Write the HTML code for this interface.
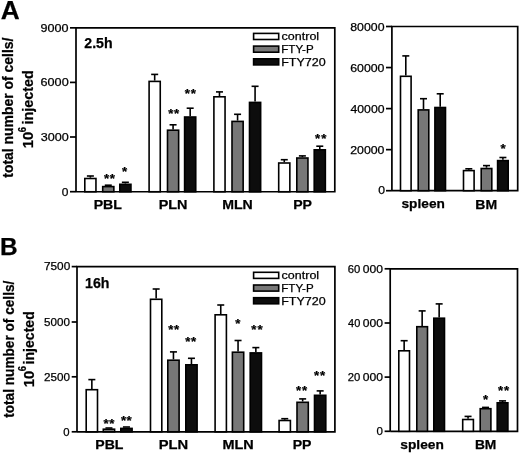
<!DOCTYPE html>
<html><head><meta charset="utf-8"><style>
html,body{margin:0;padding:0;background:#fff;}
svg{display:block;filter:blur(0.35px);}
text{font-family:"Liberation Sans",sans-serif;fill:#000;stroke:#000;stroke-width:0.25px;}
</style></head><body>
<svg width="520" height="453" viewBox="0 0 520 453">
<rect width="520" height="453" fill="#fff"/>
<text x="0.74" y="19.00" font-size="25" textLength="18.97" lengthAdjust="spacingAndGlyphs" font-weight="bold">A</text>
<text x="0.11" y="255.20" font-size="24.5" textLength="17.64" lengthAdjust="spacingAndGlyphs" font-weight="bold">B</text>
<path d="M76.0 191.75 V27.85 H334.8 V191.75 H76.0" fill="none" stroke="#000" stroke-width="1.7" stroke-linejoin="miter"/>
<line x1="70.0" y1="27.85" x2="76.0" y2="27.85" stroke="#000" stroke-width="1.7"/>
<line x1="70.0" y1="82.4" x2="76.0" y2="82.4" stroke="#000" stroke-width="1.7"/>
<line x1="70.0" y1="137.0" x2="76.0" y2="137.0" stroke="#000" stroke-width="1.7"/>
<line x1="70.0" y1="191.7" x2="76" y2="191.7" stroke="#000" stroke-width="1.7"/>
<text x="84.31" y="47.60" font-size="14.3" textLength="28.26" lengthAdjust="spacingAndGlyphs" font-weight="bold">2.5h</text>
<line x1="90.375" y1="177.7" x2="90.375" y2="176.0" stroke="#000" stroke-width="1.6"/>
<line x1="86.875" y1="176.0" x2="93.875" y2="176.0" stroke="#000" stroke-width="1.6"/>
<rect x="84.80" y="178.50" width="11.15" height="13.25" fill="#fff" stroke="#000" stroke-width="1.6"/>
<line x1="104.775" y1="185.2" x2="111.775" y2="185.2" stroke="#000" stroke-width="1.6"/>
<rect x="102.70" y="186.60" width="11.15" height="5.15" fill="#777" stroke="#000" stroke-width="1.6"/>
<line x1="125.375" y1="183.5" x2="125.375" y2="182.3" stroke="#000" stroke-width="1.6"/>
<line x1="121.875" y1="182.3" x2="128.875" y2="182.3" stroke="#000" stroke-width="1.6"/>
<rect x="119.80" y="184.30" width="11.15" height="7.45" fill="#0d0d0d" stroke="#000" stroke-width="1.6"/>
<line x1="154.675" y1="80.6" x2="154.675" y2="74.4" stroke="#000" stroke-width="1.6"/>
<line x1="151.175" y1="74.4" x2="158.175" y2="74.4" stroke="#000" stroke-width="1.6"/>
<rect x="149.10" y="81.40" width="11.15" height="110.35" fill="#fff" stroke="#000" stroke-width="1.6"/>
<line x1="173.075" y1="129.4" x2="173.075" y2="124.8" stroke="#000" stroke-width="1.6"/>
<line x1="169.575" y1="124.8" x2="176.575" y2="124.8" stroke="#000" stroke-width="1.6"/>
<rect x="167.50" y="130.20" width="11.15" height="61.55" fill="#777" stroke="#000" stroke-width="1.6"/>
<line x1="190.175" y1="116.2" x2="190.175" y2="108.2" stroke="#000" stroke-width="1.6"/>
<line x1="186.675" y1="108.2" x2="193.675" y2="108.2" stroke="#000" stroke-width="1.6"/>
<rect x="184.60" y="117.00" width="11.15" height="74.75" fill="#0d0d0d" stroke="#000" stroke-width="1.6"/>
<line x1="219.475" y1="96.0" x2="219.475" y2="91.9" stroke="#000" stroke-width="1.6"/>
<line x1="215.975" y1="91.9" x2="222.975" y2="91.9" stroke="#000" stroke-width="1.6"/>
<rect x="213.90" y="96.80" width="11.15" height="94.95" fill="#fff" stroke="#000" stroke-width="1.6"/>
<line x1="237.575" y1="120.6" x2="237.575" y2="114.3" stroke="#000" stroke-width="1.6"/>
<line x1="234.075" y1="114.3" x2="241.075" y2="114.3" stroke="#000" stroke-width="1.6"/>
<rect x="232.00" y="121.40" width="11.15" height="70.35" fill="#777" stroke="#000" stroke-width="1.6"/>
<line x1="255.075" y1="101.6" x2="255.075" y2="86.3" stroke="#000" stroke-width="1.6"/>
<line x1="251.575" y1="86.3" x2="258.575" y2="86.3" stroke="#000" stroke-width="1.6"/>
<rect x="249.50" y="102.40" width="11.15" height="89.35" fill="#0d0d0d" stroke="#000" stroke-width="1.6"/>
<line x1="284.275" y1="162.2" x2="284.275" y2="159.7" stroke="#000" stroke-width="1.6"/>
<line x1="280.775" y1="159.7" x2="287.775" y2="159.7" stroke="#000" stroke-width="1.6"/>
<rect x="278.70" y="163.00" width="11.15" height="28.75" fill="#fff" stroke="#000" stroke-width="1.6"/>
<line x1="302.375" y1="157.2" x2="302.375" y2="155.9" stroke="#000" stroke-width="1.6"/>
<line x1="298.875" y1="155.9" x2="305.875" y2="155.9" stroke="#000" stroke-width="1.6"/>
<rect x="296.80" y="158.00" width="11.15" height="33.75" fill="#777" stroke="#000" stroke-width="1.6"/>
<line x1="319.775" y1="149.0" x2="319.775" y2="146.2" stroke="#000" stroke-width="1.6"/>
<line x1="316.275" y1="146.2" x2="323.275" y2="146.2" stroke="#000" stroke-width="1.6"/>
<rect x="314.20" y="149.80" width="11.15" height="41.95" fill="#0d0d0d" stroke="#000" stroke-width="1.6"/>
<text x="40.43" y="32.00" font-size="11.5" textLength="27.96" lengthAdjust="spacingAndGlyphs">9000</text>
<text x="40.57" y="86.20" font-size="11.5" textLength="28.13" lengthAdjust="spacingAndGlyphs">6000</text>
<text x="40.70" y="140.80" font-size="11.5" textLength="28.00" lengthAdjust="spacingAndGlyphs">3000</text>
<text x="61.82" y="195.50" font-size="11.5" textLength="6.67" lengthAdjust="spacingAndGlyphs">0</text>
<text x="93.68" y="208.60" font-size="13.2" textLength="28.24" lengthAdjust="spacingAndGlyphs" font-weight="bold">PBL</text>
<text x="158.66" y="208.60" font-size="13.2" textLength="28.77" lengthAdjust="spacingAndGlyphs" font-weight="bold">PLN</text>
<text x="222.18" y="208.60" font-size="13.2" textLength="30.55" lengthAdjust="spacingAndGlyphs" font-weight="bold">MLN</text>
<text x="293.18" y="208.60" font-size="13.2" textLength="18.80" lengthAdjust="spacingAndGlyphs" font-weight="bold">PP</text>
<text transform="translate(13.00,177.74) rotate(-90) scale(1,1.08)" x="0" y="0" font-size="14" textLength="140.14" lengthAdjust="spacingAndGlyphs" font-weight="bold">total number of cells/</text>
<rect x="253.6" y="33.40" width="25.1" height="6.1" fill="#fff" stroke="#000" stroke-width="1.6"/>
<text x="281.64" y="40.20" font-size="10.8" textLength="37.49" lengthAdjust="spacingAndGlyphs">control</text>
<rect x="253.6" y="46.10" width="25.1" height="6.1" fill="#777" stroke="#000" stroke-width="1.6"/>
<text x="281.28" y="52.90" font-size="10.8" textLength="32.33" lengthAdjust="spacingAndGlyphs">FTY-P</text>
<rect x="253.6" y="58.80" width="25.1" height="6.1" fill="#0d0d0d" stroke="#000" stroke-width="1.6"/>
<text x="281.20" y="65.60" font-size="10.8" textLength="44.53" lengthAdjust="spacingAndGlyphs">FTY720</text>
<text x="103.96" y="183.42" font-size="13.30" font-weight="bold">*</text>
<text x="109.66" y="183.42" font-size="13.30" font-weight="bold">*</text>
<text x="121.96" y="176.42" font-size="13.30" font-weight="bold">*</text>
<text x="168.28" y="117.72" font-size="13.30" font-weight="bold">*</text>
<text x="174.03" y="117.72" font-size="13.30" font-weight="bold">*</text>
<text x="184.71" y="97.92" font-size="13.30" font-weight="bold">*</text>
<text x="190.71" y="97.92" font-size="13.30" font-weight="bold">*</text>
<text x="314.98" y="142.67" font-size="13.30" font-weight="bold">*</text>
<text x="321.13" y="142.67" font-size="13.30" font-weight="bold">*</text>
<path d="M391.9 190.7 V26.5 H517.7 V190.7 H391.9" fill="none" stroke="#000" stroke-width="1.7" stroke-linejoin="miter"/>
<line x1="386.0" y1="26.5" x2="391.9" y2="26.5" stroke="#000" stroke-width="1.7"/>
<line x1="386.0" y1="67.55" x2="391.9" y2="67.55" stroke="#000" stroke-width="1.7"/>
<line x1="386.0" y1="108.6" x2="391.9" y2="108.6" stroke="#000" stroke-width="1.7"/>
<line x1="386.0" y1="149.65" x2="391.9" y2="149.65" stroke="#000" stroke-width="1.7"/>
<line x1="386.0" y1="190.7" x2="391.9" y2="190.7" stroke="#000" stroke-width="1.7"/>
<line x1="405.8" y1="75.5" x2="405.8" y2="55.9" stroke="#000" stroke-width="1.6"/>
<line x1="402.3" y1="55.9" x2="409.3" y2="55.9" stroke="#000" stroke-width="1.6"/>
<rect x="400.50" y="76.30" width="10.60" height="114.40" fill="#fff" stroke="#000" stroke-width="1.6"/>
<line x1="423.5" y1="109.1" x2="423.5" y2="98.7" stroke="#000" stroke-width="1.6"/>
<line x1="420.0" y1="98.7" x2="427.0" y2="98.7" stroke="#000" stroke-width="1.6"/>
<rect x="418.20" y="109.90" width="10.60" height="80.80" fill="#777" stroke="#000" stroke-width="1.6"/>
<line x1="440.20000000000005" y1="106.7" x2="440.20000000000005" y2="93.8" stroke="#000" stroke-width="1.6"/>
<line x1="436.70000000000005" y1="93.8" x2="443.70000000000005" y2="93.8" stroke="#000" stroke-width="1.6"/>
<rect x="434.90" y="107.50" width="10.60" height="83.20" fill="#0d0d0d" stroke="#000" stroke-width="1.6"/>
<line x1="468.8" y1="169.8" x2="468.8" y2="168.8" stroke="#000" stroke-width="1.6"/>
<line x1="465.3" y1="168.8" x2="472.3" y2="168.8" stroke="#000" stroke-width="1.6"/>
<rect x="463.50" y="170.60" width="10.60" height="20.10" fill="#fff" stroke="#000" stroke-width="1.6"/>
<line x1="486.5" y1="167.7" x2="486.5" y2="165.6" stroke="#000" stroke-width="1.6"/>
<line x1="483.0" y1="165.6" x2="490.0" y2="165.6" stroke="#000" stroke-width="1.6"/>
<rect x="481.20" y="168.50" width="10.60" height="22.20" fill="#777" stroke="#000" stroke-width="1.6"/>
<line x1="502.90000000000003" y1="159.8" x2="502.90000000000003" y2="157.5" stroke="#000" stroke-width="1.6"/>
<line x1="499.40000000000003" y1="157.5" x2="506.40000000000003" y2="157.5" stroke="#000" stroke-width="1.6"/>
<rect x="497.60" y="160.60" width="10.60" height="30.10" fill="#0d0d0d" stroke="#000" stroke-width="1.6"/>
<text x="350.25" y="30.50" font-size="11.2" textLength="34.26" lengthAdjust="spacingAndGlyphs">80000</text>
<text x="350.18" y="71.50" font-size="11.2" textLength="34.32" lengthAdjust="spacingAndGlyphs">60000</text>
<text x="350.49" y="112.50" font-size="11.2" textLength="34.01" lengthAdjust="spacingAndGlyphs">40000</text>
<text x="350.18" y="153.50" font-size="11.2" textLength="34.32" lengthAdjust="spacingAndGlyphs">20000</text>
<text x="378.31" y="194.40" font-size="11.2" textLength="6.79" lengthAdjust="spacingAndGlyphs">0</text>
<text x="401.52" y="208.00" font-size="13.2" textLength="43.34" lengthAdjust="spacingAndGlyphs" font-weight="bold">spleen</text>
<text x="475.29" y="208.60" font-size="13.2" textLength="21.80" lengthAdjust="spacingAndGlyphs" font-weight="bold">BM</text>
<text x="500.46" y="152.82" font-size="13.30" font-weight="bold">*</text>
<path d="M77.0 431.8 V266.6 H334.9 V431.8 H77.0" fill="none" stroke="#000" stroke-width="1.7" stroke-linejoin="miter"/>
<line x1="71.7" y1="266.6" x2="77.0" y2="266.6" stroke="#000" stroke-width="1.7"/>
<line x1="71.7" y1="322.0" x2="77.0" y2="322.0" stroke="#000" stroke-width="1.7"/>
<line x1="71.7" y1="376.8" x2="77.0" y2="376.8" stroke="#000" stroke-width="1.7"/>
<line x1="71.7" y1="431.8" x2="77" y2="431.8" stroke="#000" stroke-width="1.7"/>
<text x="85.08" y="287.60" font-size="14.5" textLength="24.42" lengthAdjust="spacingAndGlyphs" font-weight="bold">16h</text>
<line x1="91.85000000000001" y1="388.9" x2="91.85000000000001" y2="379.6" stroke="#000" stroke-width="1.6"/>
<line x1="88.35000000000001" y1="379.6" x2="95.35000000000001" y2="379.6" stroke="#000" stroke-width="1.6"/>
<rect x="86.20" y="389.70" width="11.30" height="42.10" fill="#fff" stroke="#000" stroke-width="1.6"/>
<line x1="105.45" y1="428.0" x2="112.45" y2="428.0" stroke="#000" stroke-width="1.6"/>
<rect x="103.30" y="429.20" width="11.30" height="2.60" fill="#777" stroke="#000" stroke-width="1.6"/>
<line x1="122.95" y1="427.0" x2="129.95" y2="427.0" stroke="#000" stroke-width="1.6"/>
<rect x="120.80" y="428.40" width="11.30" height="3.40" fill="#0d0d0d" stroke="#000" stroke-width="1.6"/>
<line x1="156.14999999999998" y1="298.5" x2="156.14999999999998" y2="289.0" stroke="#000" stroke-width="1.6"/>
<line x1="152.64999999999998" y1="289.0" x2="159.64999999999998" y2="289.0" stroke="#000" stroke-width="1.6"/>
<rect x="150.50" y="299.30" width="11.30" height="132.50" fill="#fff" stroke="#000" stroke-width="1.6"/>
<line x1="173.45" y1="359.4" x2="173.45" y2="351.9" stroke="#000" stroke-width="1.6"/>
<line x1="169.95" y1="351.9" x2="176.95" y2="351.9" stroke="#000" stroke-width="1.6"/>
<rect x="167.80" y="360.20" width="11.30" height="71.60" fill="#777" stroke="#000" stroke-width="1.6"/>
<line x1="191.45" y1="364.0" x2="191.45" y2="358.3" stroke="#000" stroke-width="1.6"/>
<line x1="187.95" y1="358.3" x2="194.95" y2="358.3" stroke="#000" stroke-width="1.6"/>
<rect x="185.80" y="364.80" width="11.30" height="67.00" fill="#0d0d0d" stroke="#000" stroke-width="1.6"/>
<line x1="220.75" y1="314.0" x2="220.75" y2="305.0" stroke="#000" stroke-width="1.6"/>
<line x1="217.25" y1="305.0" x2="224.25" y2="305.0" stroke="#000" stroke-width="1.6"/>
<rect x="215.10" y="314.80" width="11.30" height="117.00" fill="#fff" stroke="#000" stroke-width="1.6"/>
<line x1="238.04999999999998" y1="351.4" x2="238.04999999999998" y2="340.5" stroke="#000" stroke-width="1.6"/>
<line x1="234.54999999999998" y1="340.5" x2="241.54999999999998" y2="340.5" stroke="#000" stroke-width="1.6"/>
<rect x="232.40" y="352.20" width="11.30" height="79.60" fill="#777" stroke="#000" stroke-width="1.6"/>
<line x1="255.85" y1="352.1" x2="255.85" y2="347.6" stroke="#000" stroke-width="1.6"/>
<line x1="252.35" y1="347.6" x2="259.35" y2="347.6" stroke="#000" stroke-width="1.6"/>
<rect x="250.20" y="352.90" width="11.30" height="78.90" fill="#0d0d0d" stroke="#000" stroke-width="1.6"/>
<line x1="284.75" y1="419.7" x2="284.75" y2="418.7" stroke="#000" stroke-width="1.6"/>
<line x1="281.25" y1="418.7" x2="288.25" y2="418.7" stroke="#000" stroke-width="1.6"/>
<rect x="279.10" y="420.50" width="11.30" height="11.30" fill="#fff" stroke="#000" stroke-width="1.6"/>
<line x1="302.65" y1="401.5" x2="302.65" y2="398.9" stroke="#000" stroke-width="1.6"/>
<line x1="299.15" y1="398.9" x2="306.15" y2="398.9" stroke="#000" stroke-width="1.6"/>
<rect x="297.00" y="402.30" width="11.30" height="29.50" fill="#777" stroke="#000" stroke-width="1.6"/>
<line x1="320.15" y1="394.5" x2="320.15" y2="390.9" stroke="#000" stroke-width="1.6"/>
<line x1="316.65" y1="390.9" x2="323.65" y2="390.9" stroke="#000" stroke-width="1.6"/>
<rect x="314.50" y="395.30" width="11.30" height="36.50" fill="#0d0d0d" stroke="#000" stroke-width="1.6"/>
<text x="44.01" y="270.40" font-size="10.8" textLength="26.26" lengthAdjust="spacingAndGlyphs">7500</text>
<text x="44.14" y="326.00" font-size="10.8" textLength="25.83" lengthAdjust="spacingAndGlyphs">5000</text>
<text x="44.02" y="380.80" font-size="10.8" textLength="25.95" lengthAdjust="spacingAndGlyphs">2500</text>
<text x="63.35" y="435.80" font-size="10.8" textLength="6.32" lengthAdjust="spacingAndGlyphs">0</text>
<text x="95.29" y="448.90" font-size="13.2" textLength="28.14" lengthAdjust="spacingAndGlyphs" font-weight="bold">PBL</text>
<text x="158.74" y="448.90" font-size="13.2" textLength="29.41" lengthAdjust="spacingAndGlyphs" font-weight="bold">PLN</text>
<text x="222.46" y="448.90" font-size="13.2" textLength="31.29" lengthAdjust="spacingAndGlyphs" font-weight="bold">MLN</text>
<text x="292.68" y="448.90" font-size="13.2" textLength="18.80" lengthAdjust="spacingAndGlyphs" font-weight="bold">PP</text>
<rect x="253.6" y="272.30" width="25.1" height="6.1" fill="#fff" stroke="#000" stroke-width="1.6"/>
<text x="281.64" y="279.10" font-size="10.8" textLength="37.49" lengthAdjust="spacingAndGlyphs">control</text>
<rect x="253.6" y="285.00" width="25.1" height="6.1" fill="#777" stroke="#000" stroke-width="1.6"/>
<text x="281.28" y="291.80" font-size="10.8" textLength="32.33" lengthAdjust="spacingAndGlyphs">FTY-P</text>
<rect x="253.6" y="297.70" width="25.1" height="6.1" fill="#0d0d0d" stroke="#000" stroke-width="1.6"/>
<text x="281.20" y="304.50" font-size="10.8" textLength="44.53" lengthAdjust="spacingAndGlyphs">FTY720</text>
<text x="103.56" y="428.07" font-size="13.30" font-weight="bold">*</text>
<text x="109.26" y="428.07" font-size="13.30" font-weight="bold">*</text>
<text x="120.93" y="425.22" font-size="13.30" font-weight="bold">*</text>
<text x="126.58" y="425.22" font-size="13.30" font-weight="bold">*</text>
<text x="168.16" y="334.02" font-size="13.30" font-weight="bold">*</text>
<text x="174.06" y="334.02" font-size="13.30" font-weight="bold">*</text>
<text x="185.13" y="345.82" font-size="13.30" font-weight="bold">*</text>
<text x="190.98" y="345.82" font-size="13.30" font-weight="bold">*</text>
<text x="235.21" y="328.42" font-size="13.30" font-weight="bold">*</text>
<text x="251.33" y="334.02" font-size="13.30" font-weight="bold">*</text>
<text x="257.38" y="334.02" font-size="13.30" font-weight="bold">*</text>
<text x="296.08" y="395.17" font-size="13.30" font-weight="bold">*</text>
<text x="302.03" y="395.17" font-size="13.30" font-weight="bold">*</text>
<text x="314.11" y="379.77" font-size="13.30" font-weight="bold">*</text>
<text x="320.11" y="379.77" font-size="13.30" font-weight="bold">*</text>
<path d="M390.2 431.3 V268.8 H517.5 V431.3 H390.2" fill="none" stroke="#000" stroke-width="1.7" stroke-linejoin="miter"/>
<line x1="384.6" y1="268.8" x2="390.2" y2="268.8" stroke="#000" stroke-width="1.7"/>
<line x1="384.6" y1="323.0" x2="390.2" y2="323.0" stroke="#000" stroke-width="1.7"/>
<line x1="384.6" y1="377.1" x2="390.2" y2="377.1" stroke="#000" stroke-width="1.7"/>
<line x1="384.6" y1="431.3" x2="390.2" y2="431.3" stroke="#000" stroke-width="1.7"/>
<line x1="404.15" y1="350.0" x2="404.15" y2="340.7" stroke="#000" stroke-width="1.6"/>
<line x1="400.65" y1="340.7" x2="407.65" y2="340.7" stroke="#000" stroke-width="1.6"/>
<rect x="398.80" y="350.80" width="10.70" height="80.50" fill="#fff" stroke="#000" stroke-width="1.6"/>
<line x1="422.15" y1="325.9" x2="422.15" y2="310.9" stroke="#000" stroke-width="1.6"/>
<line x1="418.65" y1="310.9" x2="425.65" y2="310.9" stroke="#000" stroke-width="1.6"/>
<rect x="416.80" y="326.70" width="10.70" height="104.60" fill="#777" stroke="#000" stroke-width="1.6"/>
<line x1="439.15" y1="317.4" x2="439.15" y2="303.9" stroke="#000" stroke-width="1.6"/>
<line x1="435.65" y1="303.9" x2="442.65" y2="303.9" stroke="#000" stroke-width="1.6"/>
<rect x="433.80" y="318.20" width="10.70" height="113.10" fill="#0d0d0d" stroke="#000" stroke-width="1.6"/>
<line x1="468.04999999999995" y1="418.7" x2="468.04999999999995" y2="416.4" stroke="#000" stroke-width="1.6"/>
<line x1="464.54999999999995" y1="416.4" x2="471.54999999999995" y2="416.4" stroke="#000" stroke-width="1.6"/>
<rect x="462.70" y="419.50" width="10.70" height="11.80" fill="#fff" stroke="#000" stroke-width="1.6"/>
<line x1="482.04999999999995" y1="407.4" x2="489.04999999999995" y2="407.4" stroke="#000" stroke-width="1.6"/>
<rect x="480.20" y="408.70" width="10.70" height="22.60" fill="#777" stroke="#000" stroke-width="1.6"/>
<line x1="502.54999999999995" y1="402.0" x2="502.54999999999995" y2="400.9" stroke="#000" stroke-width="1.6"/>
<line x1="499.04999999999995" y1="400.9" x2="506.04999999999995" y2="400.9" stroke="#000" stroke-width="1.6"/>
<rect x="497.20" y="402.80" width="10.70" height="28.50" fill="#0d0d0d" stroke="#000" stroke-width="1.6"/>
<text x="347.84" y="272.80" font-size="11.0" textLength="12.54" lengthAdjust="spacingAndGlyphs">60</text>
<text x="362.82" y="272.80" font-size="11.0" textLength="20.21" lengthAdjust="spacingAndGlyphs">000</text>
<text x="348.12" y="326.90" font-size="11.0" textLength="12.24" lengthAdjust="spacingAndGlyphs">40</text>
<text x="362.82" y="326.90" font-size="11.0" textLength="20.21" lengthAdjust="spacingAndGlyphs">000</text>
<text x="347.84" y="381.00" font-size="11.0" textLength="12.54" lengthAdjust="spacingAndGlyphs">20</text>
<text x="362.82" y="381.00" font-size="11.0" textLength="20.21" lengthAdjust="spacingAndGlyphs">000</text>
<text x="376.54" y="435.00" font-size="11.2" textLength="6.44" lengthAdjust="spacingAndGlyphs">0</text>
<text x="400.32" y="448.50" font-size="13.2" textLength="43.55" lengthAdjust="spacingAndGlyphs" font-weight="bold">spleen</text>
<text x="474.90" y="449.00" font-size="13.2" textLength="21.47" lengthAdjust="spacingAndGlyphs" font-weight="bold">BM</text>
<text x="482.96" y="403.77" font-size="13.30" font-weight="bold">*</text>
<text x="498.06" y="394.52" font-size="13.30" font-weight="bold">*</text>
<text x="503.96" y="394.52" font-size="13.30" font-weight="bold">*</text>
<text transform="translate(13.80,417.84) rotate(-90) scale(1,1.08)" x="0" y="0" font-size="14" textLength="137.14" lengthAdjust="spacingAndGlyphs" font-weight="bold">total number of cells/</text>
<g transform="translate(33.1,148.16) rotate(-90)"><text x="0" y="0" font-size="14" font-weight="bold" textLength="16.49" lengthAdjust="spacingAndGlyphs">10</text><text x="15.83" y="-7.50" font-size="10.20" font-weight="bold" textLength="5.28" lengthAdjust="spacingAndGlyphs">6</text><text x="23.76" y="0" font-size="14" font-weight="bold" textLength="54.22" lengthAdjust="spacingAndGlyphs">injected</text></g>
<g transform="translate(34.4,387.16) rotate(-90)"><text x="0" y="0" font-size="14" font-weight="bold" textLength="16.49" lengthAdjust="spacingAndGlyphs">10</text><text x="15.83" y="-8.00" font-size="10.20" font-weight="bold" textLength="5.28" lengthAdjust="spacingAndGlyphs">6</text><text x="22.78" y="0" font-size="14" font-weight="bold" textLength="53.18" lengthAdjust="spacingAndGlyphs">injected</text></g>
</svg>
</body></html>
